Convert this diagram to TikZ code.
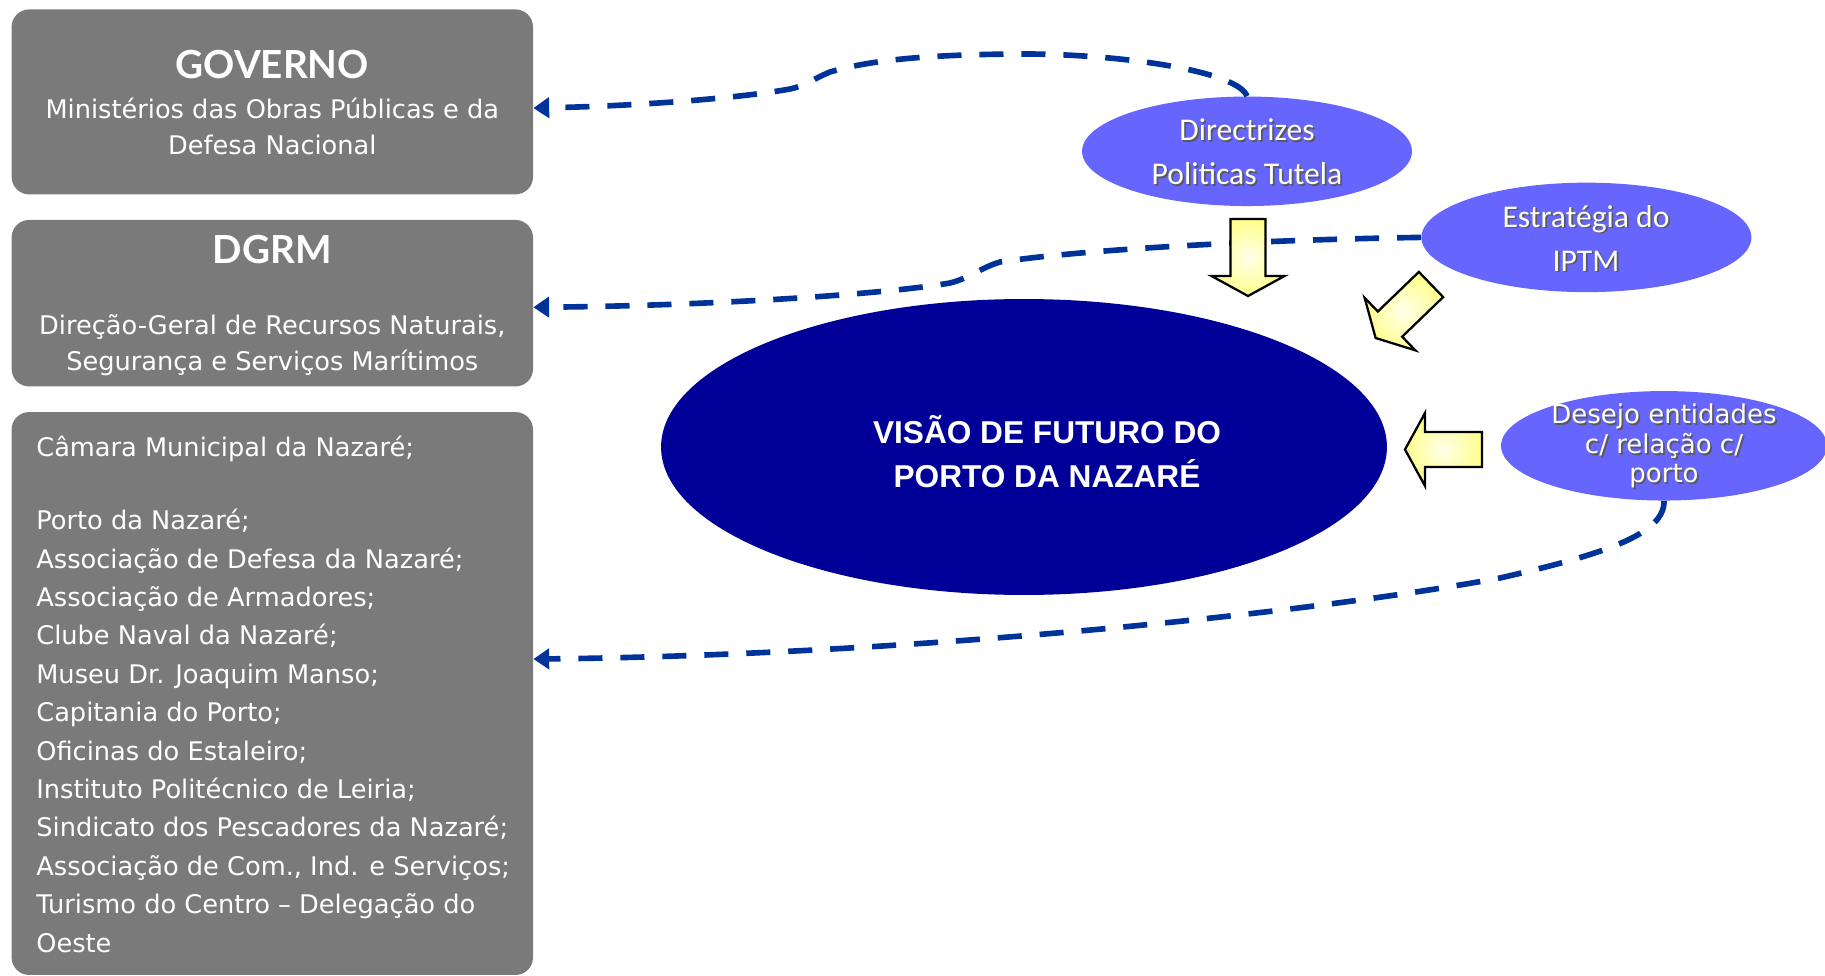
\documentclass[tikz,border=0pt]{standalone}
\usepackage{fontspec}
\setmainfont{DejaVu Sans}
\newfontfamily\titlefont{Lato}
\newfontfamily\calfont{Carlito}
\newfontfamily\arialfont{Liberation Sans}
\usetikzlibrary{positioning,shapes.geometric,arrows.meta}
\definecolor{boxgray}{RGB}{122,122,122}
\definecolor{ovalblue}{RGB}{102,102,255}
\definecolor{visionblue}{RGB}{0,0,153}
\definecolor{linkblue}{RGB}{0,51,153}
\definecolor{arrowyellow}{RGB}{255,255,140}
\newcommand{\shadowed}[1]{\makebox[0pt][l]{\kern1pt\raisebox{-1pt}{\color{black!65}#1}}#1}
\tikzset{graybox/.style={rectangle, rounded corners=0.35cm, fill=boxgray, minimum width=10.43cm, inner sep=0pt},
ovalnode/.style={ellipse, fill=ovalblue, minimum width=6.6cm, minimum height=2.19cm, inner sep=0pt},
visionnode/.style={ellipse, fill=visionblue, minimum width=14.52cm, minimum height=5.92cm, inner sep=0pt},
titletext/.style={text=white, font=\titlefont\bfseries\fontsize{22}{26}\selectfont, inner sep=0pt},
boxtext/.style={text=white, font=\fontsize{14.6}{20.5}\selectfont, align=center, inner sep=0pt},
ovaltext/.style={text=white, font=\calfont\fontsize{18}{25}\selectfont, align=center, inner sep=0pt},
linkline/.style={draw=linkblue, line width=3.2pt, dash pattern=on 13.7pt off 10.2pt, -{Triangle[length=9pt,width=11.5pt]}},
fatarrow/.pic={\path[draw=black, line width=1.3pt, shade, inner color=yellow!8, outer color=arrowyellow] (0,-17.5) -- (57,-17.5) -- (57,-36.5) -- (77,0) -- (57,36.5) -- (57,17.5) -- (0,17.5) -- cycle;},}

\begin{document}
\begin{tikzpicture}[x=0.02cm, y=-0.02cm]
\useasboundingbox (0,0) rectangle (1825,976);
% boxes on the left
\node[graybox, minimum height=3.70cm] (gov) at (272.3,101.9) {};
\node[graybox, minimum height=3.33cm] (dgrm) at (272.3,303.2) {};
\node[graybox, minimum height=11.26cm] (local) at (272.3,693.5) {};
\node[titletext] (govtitle) at (272.3,65) {GOVERNO};
\node[boxtext] (govtext) at (272.3,126) {Ministérios das Obras Públicas e da\\Defesa Nacional};
\node[titletext] (dgrmtitle) at (272.3,250) {DGRM};
\node[boxtext] (dgrmtext) at (272.3,345.5) {Direção-Geral de Recursos Naturais,\\Segurança e Serviços Marítimos};
\node[boxtext, align=left, anchor=base west, font=\fontsize{14.6}{21.85}\selectfont] (locallist) at (36,952) {Câmara Municipal da Nazaré;\\[19.7pt]Porto da Nazaré;\\Associação de Defesa da Nazaré;\\Associação de Armadores;\\Clube Naval da Nazaré;\\Museu Dr. Joaquim Manso;\\Capitania do Porto;\\Oficinas do Estaleiro;\\Instituto Politécnico de Leiria;\\Sindicato dos Pescadores da Nazaré;\\Associação de Com., Ind. e Serviços;\\Turismo do Centro – Delegação do\\Oeste};
% ovals on the right
\node[ovalnode] (dir) at (1247,151.3) {};
\node[ovalnode] (est) at (1586.4,237.4) {};
\node[ovalnode, minimum width=6.52cm] (des) at (1664,445.8) {};
\node[visionnode] (vision) at (1024,447) {};
\node[ovaltext] (dirtext) at (1247,152.5) {\shadowed{Directrizes}\\\shadowed{Politicas Tutela}};
\node[ovaltext] (esttext) at (1586,239) {\shadowed{Estratégia do}\\\shadowed{IPTM}};
\node[ovaltext, font=\fontsize{14.8}{16.8}\selectfont] (destext) at (1664,447) {\shadowed{Desejo entidades}\\\shadowed{c/ relação c/}\\\shadowed{porto}};
\node[text=white, font=\arialfont\bfseries\fontsize{18}{25.2}\selectfont, align=center, inner sep=0pt] (visiontext) at (1047,451.5) {VISÃO DE FUTURO DO\\PORTO DA NAZARÉ};
% dashed links
\draw[linkline] (dir.north) .. controls (1238,72) and (1130,55) .. (1030,54) .. controls (930,54) and (870,60) .. (830,72) .. controls (815,78) and (805,86) .. (790,89) .. controls (740,98) and (640,106) .. ([yshift=-3.5pt]gov.east);
\draw[linkline] (est.west) .. controls (1250,240) and (1080,250) .. (1000,262) .. controls (980,268) and (970,278) .. (950,283) .. controls (880,295) and (700,306) .. ([yshift=-2.3pt]dgrm.east);
\draw[linkline] (des.south) .. controls (1665,535) and (1600,555) .. (1500,578) .. controls (1300,615) and (900,655) .. ([yshift=19.6pt]local.east);
% yellow arrows
\path (1248,219) pic[rotate=-90] {fatarrow};
\path (1431,284.5) pic[rotate=-136] {fatarrow};
\path (1482,449.5) pic[rotate=180] {fatarrow};
\end{tikzpicture}
\end{document}
